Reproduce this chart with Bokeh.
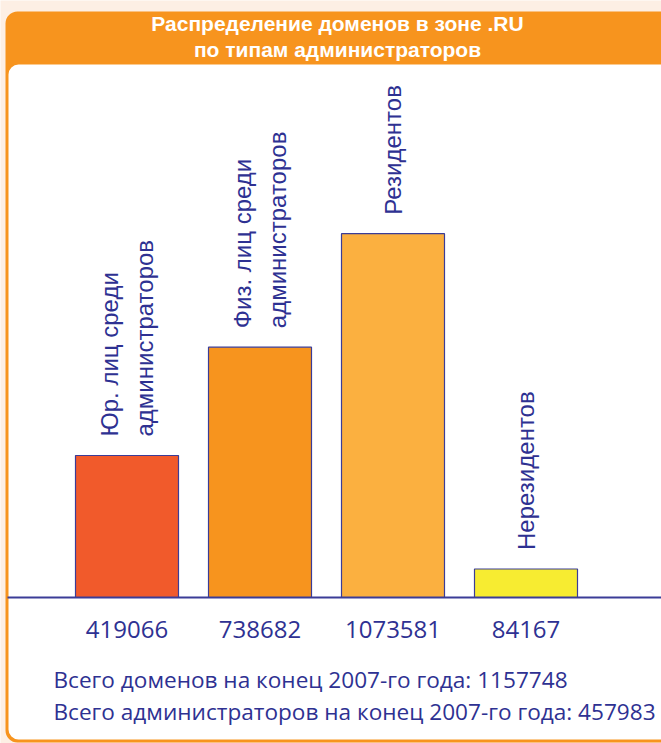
from bokeh.plotting import figure
from bokeh.models import Range1d, BoxAnnotation, ColumnDataSource
from bokeh.core.properties import value
from bokeh.embed import file_html
from bokeh.resources import INLINE

# ---- data ----
categories = ["Юр. лиц среди\nадминистраторов", "Физ. лиц среди\nадминистраторов",
              "Резидентов", "Нерезидентов"]
counts = [419066, 738682, 1073581, 84167]
count_labels = ["419066", "738682", "1073581", "84167"]
bar_colors = ["#f15a2b", "#f7941e", "#fbb040", "#f7ec31"]
title_lines = ["Распределение доменов в зоне .RU", "по типам администраторов"]
summary_lines = ["Всего доменов на конец 2007-го года: 1157748",
                 "Всего администраторов на конец 2007-го года: 457983"]

W, H = 661, 743
BLUE = "#2e3192"
ORANGE = "#f7941e"

def py(pix):
    return H - pix

p = figure(width=W, height=H, output_backend="svg", toolbar_location=None,
           x_range=Range1d(0, W), y_range=Range1d(0, H),
           x_axis_type=None, y_axis_type=None, min_border=0,
           background_fill_color="#fdefe4", border_fill_color="#fdefe4",
           outline_line_color=None)
p.grid.visible = False

# value / category scales
UPP = 2951.0  # units per pixel
base = 597
p.extra_y_ranges = {"vals": Range1d(-(H - base) * UPP, base * UPP)}
pitch = 133.0
first = 126.5
p.extra_x_ranges = {"cat": Range1d(-first / pitch, (W - first) / pitch)}

# frame
p.add_layout(BoxAnnotation(left=5, right=720, top=py(11), bottom=py(742),
                           fill_color=ORANGE, fill_alpha=1, line_color=None,
                           border_radius=12, level="underlay"))
p.add_layout(BoxAnnotation(left=8, right=720, top=py(64), bottom=py(739),
                           fill_color="white", fill_alpha=1, line_color=None,
                           border_radius=10, level="underlay"))

src = ColumnDataSource(dict(x=list(range(len(counts))), top=counts,
                            color=bar_colors, cat=categories, lab=count_labels))

p.vbar(x="x", top="top", bottom=0, width=103 / pitch, source=src,
       fill_color="color", line_color="#3b3c97", line_width=1.2,
       x_range_name="cat", y_range_name="vals")

# baseline
p.segment(x0=[7], x1=[W], y0=[py(base)], y1=[py(base)], line_color="#3b3c97", line_width=2)

# category labels (rotated)
p.text(x="x", y="top", text="cat", source=src, x_range_name="cat", y_range_name="vals",
       angle=1.5708, y_offset=-19, x_offset=0, text_align="left", text_baseline="middle",
       text_font=value("Liberation Sans"), text_font_size="24px", text_color=BLUE,
       text_line_height=1.3)

# count labels
p.text(x="x", y=0, text="lab", source=src, x_range_name="cat", y_range_name="vals",
       y_offset=32, text_align="center", text_baseline="alphabetic",
       text_font=value("Open Sans"), text_font_size="24px", text_color=BLUE)

# title
p.text(x=[337, 337], y=[py(23), py(49)], text=title_lines, text_align="center",
       text_baseline="alphabetic", text_font=value("Liberation Sans"),
       text_font_style="bold", text_font_size="21px", text_color="white")

# summary
p.text(x=[53, 53], y=[py(679), py(711)], text=summary_lines, text_align="left",
       text_baseline="alphabetic", text_font=value("Open Sans"),
       text_font_size="22.6px", text_color=BLUE)

open("out.html", "w").write(file_html(p, INLINE))
